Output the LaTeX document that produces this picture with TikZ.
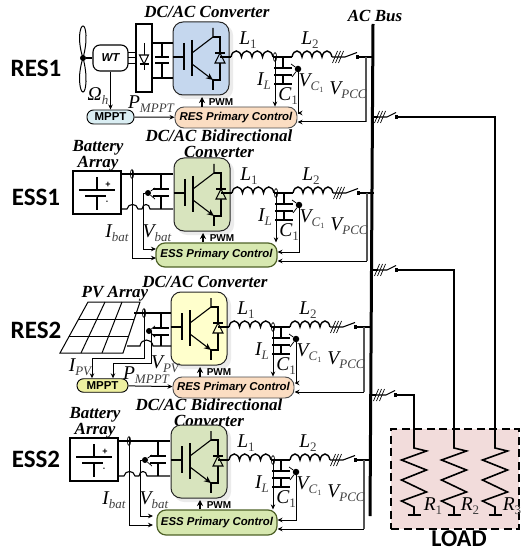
\documentclass[tikz,border=0pt]{standalone}
\usepackage{fontspec}
\setmainfont{Liberation Serif}
\setsansfont{Liberation Sans}
\newfontfamily\carl{Carlito}
\usetikzlibrary{arrows.meta}
\definecolor{cblue}{HTML}{C5D7EE}
\definecolor{cgreen}{HTML}{D8E4BE}
\definecolor{cyell}{HTML}{FFFFCC}
\definecolor{cpeach}{HTML}{FBDDC2}
\definecolor{ctlg}{HTML}{D7E8B0}
\definecolor{ctlb}{HTML}{4F6228}
\definecolor{cpink}{HTML}{F2DCDB}
\definecolor{mblue}{HTML}{DAEEF3}
\definecolor{myell}{HTML}{EEF0A0}
\definecolor{sgray}{HTML}{555555}
\newcommand{\symb}[2]{{\fontsize{19.5}{19}\selectfont\itshape #1\raisebox{-4pt}{\fontsize{13}{13}\selectfont\color{black!75}#2}}}
\newcommand{\titl}{\fontsize{17}{17}\selectfont\bfseries\itshape}
\newcommand{\rowl}{\carl\fontsize{25}{25}\selectfont\bfseries}
\tikzset{
  wire/.style={line width=1.1pt,black},
  thin wire/.style={line width=.75pt,black},
  gray wire/.style={line width=1.2pt,sgray},
  feed/.style={line width=.8pt,black,-{Stealth[length=5pt,width=4.5pt]}},
  plate/.style={line width=1.8pt,black},
  conv/.style={draw=black!85,line width=1pt,rounded corners=10pt},
  glow/.style={rounded corners=10pt,fill=black!8},
  ctrl/.style={rounded corners=9pt,inner sep=0pt,font=\sffamily\bfseries\itshape\fontsize{11.4}{12}\selectfont},
  resctrl/.style={ctrl,draw=black!70,line width=.9pt,fill=cpeach},
  essctrl/.style={ctrl,draw=ctlb,line width=1.2pt,fill=ctlg},
  mppt/.style={rounded corners=6.5pt,draw=black,line width=.9pt,inner sep=0pt,font=\sffamily\bfseries\fontsize{11.5}{12}\selectfont},
  pwm/.style={inner sep=0pt,font=\sffamily\bfseries\fontsize{10}{10}\selectfont},
  lab/.style={inner sep=0pt},
  ttl/.style={inner sep=0pt,font=\titl},
  rowlabel/.style={inner sep=0pt,font=\rowl},
  dotn/.style={circle,fill=black,inner sep=0pt,minimum size=6pt},
}
\newcommand{\coil}[4]{\draw[wire,line width=1.4pt] (#1,#2) foreach \i in {1,...,#3} { .. controls +(1.5,-8) and +(-1.5,-8) .. ++(#4,0) };}
% x y blade-length
\newcommand{\swt}[3]{%
  \foreach \k in {-3,0,3} \draw[line width=.7pt] ({#1+\k-2.5},{#2+6}) -- ({#1+\k+2.5},{#2-6});
  \draw[wire] ({#1-6},#2) -- ({#1+7},#2) -- ({#1+#3},{#2-4.5});
  \fill ({#1+#3-1.5},{#2-2}) rectangle ({#1+#3+2},{#2+2});
}
% name dx dy convfill ctrlstyle x0 x1 y1 label
\newcommand{\stage}[9]{%
\begin{scope}[shift={(#2,#3)}]
  \fill[glow] (176,25) rectangle (233,99);
  \node[conv,fill=#4,minimum width=56pt,minimum height=73pt,inner sep=0pt] (#1conv) at (201,58.5) {};
  % IGBT
  \draw[wire] (#1conv.west |- 0,57) -- (184,57);
  \draw[line width=2.8pt] (184,43) -- (184,70);
  \draw[line width=2.8pt] (192,40) -- (192,76);
  \draw[wire] (213,28) -- (213,37) -- (192,53);
  \draw[wire,-{Stealth[length=7pt,width=6pt]}] (192,64) -- (213,80);
  \draw[wire] (213,79) -- (213,90);
  \draw[wire] (213,37) -- (220,37) -- (220,80) -- (213,80);
  \draw[wire,fill=#4] (215,63) -- (225,63) -- (220,53) -- cycle;
  \draw[wire] (215,53) -- (225,53);
  % output
  \draw[wire] (220,57) -- (231,57);
  \coil{231}{57}{4}{10.5}
  \draw[wire,line width=1.6pt] (273,57) -- (292,57);
  \coil{292}{57}{4}{10}
  \swt{338}{57}{19}
  \coordinate (#1bus) at (373,57);
  \coordinate (#1tap) at (366,57);
  \draw[line width=1.8pt] (358,57) -- (#1bus);
  % capacitor
  \draw[wire] (283,57) -- (283,68);
  \draw[plate] (274,68) -- (292,68);
  \draw[plate] (274,75) -- (292,75);
  \draw[wire] (283,75) -- (283,84);
  \draw[plate] (274,84) -- (292,84);
  % sensing
  \node[dotn,minimum size=6.5pt] (#1dot) at (298,69) {};
  \draw[thin wire] (#1dot) -- (291,64) (#1dot) -- (292,77);
  \coordinate (#1cs) at (275,57);
  \draw[line width=.7pt] (275,57) ellipse [x radius=1.6pt,y radius=4.5pt];
  % control
  \node[#5,minimum width={(#7-#6)*1pt},minimum height={(#8-107)*1pt}] (#1ctrl) at ({(#6+#7)/2},{(107+#8)/2}) {#9};
  \draw[feed] (#1cs) -- (#1cs |- #1ctrl.north);
  \draw[feed] (#1dot) |- ({#7+.5},{#8-15});
  \draw[gray wire] (#1tap) -- (366,{#8-6});
  \draw[feed,line width=1pt] (366,{#8-6}) -- ({#7+.5},{#8-6});
  \draw[wire,-{Stealth[length=6pt,width=6pt]}] (#1ctrl.north -| 202,0) -- (202,97);
  \node[pwm] (#1pwm) at (221,102) {PWM};
  % labels
  \node[lab] (#1la) at (248,40) {\symb{L}{\upshape 1}};
  \node[lab] (#1lb) at (310,40) {\symb{L}{\upshape 2}};
  \node[lab] (#1il) at (264,81) {\symb{I}{L}};
  \node[lab] (#1cl) at (288,96) {\symb{C}{\upshape 1}};
  \node[lab] (#1vc) at (311,83) {\symb{V}{C\raisebox{-2pt}{\fontsize{8}{8}\selectfont\upshape 1}}};
  \node[lab] (#1vp) at (348,90) {\symb{V}{PCC}};
\end{scope}}
% name dx dy
\newcommand{\batt}[3]{%
\begin{scope}[shift={(#2,#3)}]
  \node[draw=black,line width=1.1pt,minimum width=48pt,minimum height=43pt,inner sep=0pt] (#1box) at (97,56.5) {};
  \draw[wire] (97,41) -- (97,54);
  \draw[wire,line width=1.4pt] (79,54) -- (115,54);
  \draw[wire,line width=1.4pt] (85,60) -- (106,60);
  \draw[wire] (97,60) -- (97,74);
  \node[inner sep=0pt,font=\sffamily\bfseries\fontsize{9}{9}\selectfont] (#1pl) at (108,49) {+};
  \node[inner sep=0pt,font=\sffamily\bfseries\fontsize{7}{7}\selectfont] (#1mi) at (107,66) {-};
  \draw[wire] (121,38) -- (173,38);
  \draw[wire] (121,73) -- (127,73) .. controls +(1,-6) and +(-1,-6) .. ++(11,0) -- (142,73) .. controls +(.5,-6) and +(-.5,-6) .. ++(8,0) -- (173,73);
  \draw[line width=.7pt] (132,38) ellipse [x radius=1.6pt,y radius=4.5pt];
  \draw[wire] (161,38) -- (161,53);
  \draw[wire,line width=1.5pt] (153,53) -- (169,53);
  \draw[wire,line width=1.5pt] (153,60) -- (169,60);
  \draw[wire] (161,60) -- (161,73);
  \node[dotn] (#1dot) at (148,57) {};
  \draw[thin wire] (#1dot) -- (155,52) (#1dot) -- (155,63);
  \coordinate (#1ci) at (132,34);
  \coordinate (#1ca) at (156,122);
  \coordinate (#1cb) at (156,113);
  \draw[feed] (#1ci) |- (#1ca);
  \draw[feed] (#1dot) -- (143,57) |- (#1cb);
  \node[lab] (#1ib) at (117,97) {\symb{I}{bat}};
  \node[lab] (#1vb) at (157,97) {\symb{V}{bat}};
  \node[ttl] (#1ta) at (98,11.5) {Battery};
  \node[ttl] (#1tb) at (98,28) {Array};
\end{scope}}
\begin{document}
\begin{tikzpicture}[x=1pt,y=-1pt]
\useasboundingbox (0,0) rectangle (520,553);
% load box
\node[draw=black,line width=1.1pt,dash pattern=on 8pt off 4.5pt,fill=cpink,minimum width=128pt,minimum height=100pt,inner sep=0pt] (load) at (455,479) {};
\node[rowlabel,font=\carl\fontsize{24}{24}\selectfont\bfseries] (loadt) at (459,539) {LOAD};
% row labels
\node[rowlabel] (r1) at (36,68) {RES1};
\node[rowlabel] (r2) at (36,197) {ESS1};
\node[rowlabel] (r3) at (36,330) {RES2};
\node[rowlabel] (r4) at (36,459) {ESS2};
% titles
\node[ttl] (t1) at (207,12) {DC/AC Converter};
\node[ttl] (t2a) at (219,136) {DC/AC Bidirectional};
\node[ttl] (t2b) at (219,152) {Converter};
\node[ttl] (t3) at (205,282) {DC/AC Converter};
\node[ttl] (t4a) at (209,405) {DC/AC Bidirectional};
\node[ttl] (t4b) at (209,421) {Converter};
\node[ttl] (bust) at (375,16) {AC Bus};
% stages
\stage{a}{0}{0}{cblue}{resctrl}{175}{297}{128}{RES Primary Control}
\stage{b}{1}{136}{cgreen}{essctrl}{155}{276}{131}{ESS Primary Control}
\stage{c}{-2}{270}{cyell}{resctrl}{175}{296}{128}{RES Primary Control}
\stage{d}{-2}{403}{cgreen}{essctrl}{159}{279}{132}{ESS Primary Control}
% bus
\draw[line width=3pt] (373,24) -- (370,516);
% bus switches and loads
\draw[wire] (373,117) -- (378,117);
\swt{380}{117}{16}
\draw[wire] (373,270) -- (378,270);
\swt{380}{270}{16}
\draw[wire] (371,395) -- (376,395);
\swt{379}{395}{16}
\coordinate (ra) at (414,447);
\coordinate (rb) at (454,447);
\coordinate (rc) at (495,447);
\draw[line width=1.5pt] (397,117) -| (rc);
\draw[line width=1.5pt] (397,270) -| (rb);
\draw[line width=1.5pt] (396,395) -| (ra);
\foreach \n/\xc/\lx/\s in {ra/414/433/1,rb/454/470/2,rc/495/512/3}{
  \draw[line width=1.6pt,line join=miter] (\n) -- ++(0,1) -- (\xc+12.5,451) -- (\xc-12.5,460) -- (\xc+12.5,470) -- (\xc-12.5,480) -- (\xc+12.5,492) -- (\xc-12.5,501) -- (\xc,507) -- (\xc,515);
  \draw[line width=1.8pt] (\xc-6.5,515) -- (\xc+6.5,515);
  \node[lab] (t\n) at (\lx,506) {\symb{R}{\upshape\s}};
}
% --- RES1 source
\draw[line width=1pt] (83,58) .. controls (77,40) and (80,26) .. (83,26) .. controls (86,26) and (88,40) .. (83,58);
\draw[line width=1pt] (83,58) .. controls (77,76) and (80,92) .. (83,92) .. controls (86,92) and (88,76) .. (83,58);
\node[circle,fill=black,inner sep=0pt,minimum size=6pt] (hub) at (83,58) {};
\node[draw=black,line width=1.1pt,rounded corners=7pt,minimum width=35pt,minimum height=26pt,inner sep=0pt,font=\sffamily\bfseries\itshape\fontsize{11.5}{12}\selectfont] (wt) at (110.5,58) {WT};
\draw[wire] (hub) -- (wt);
\node[draw=black,line width=1.1pt,minimum width=16pt,minimum height=68pt,inner sep=0pt] (rect) at (144,58) {};
\foreach \yy in {52,57,63} \draw[thin wire] (128,\yy) -- (136,\yy);
\draw[thin wire] (144,43) -- (144,70);
\draw[wire,fill=white] (139.5,55) -- (148.5,55) -- (144,64) -- cycle;
\draw[wire] (139.5,64) -- (148.5,64);
\draw[wire] (152,43) -- (173,43);
\draw[wire] (152,78) -- (173,78);
\draw[wire] (162,43) -- (162,57);
\draw[wire,line width=1.5pt] (155,57) -- (169,57);
\draw[wire,line width=1.5pt] (155,63) -- (169,63);
\draw[wire] (162,63) -- (162,78);
\node[mppt,fill=mblue,minimum width=47pt,minimum height=14pt] (ma) at (110.5,117) {MPPT};
\draw[feed] (wt) -- (wt |- ma.north);
\draw[feed,line width=1pt] (ma) -- (actrl);
\node[lab] (om) at (98,96) {\symb{Ω}{h}};
\node[lab] (pa) at (151,104) {\symb{P}{MPPT}};
% --- batteries
\batt{e}{0}{136}
\batt{f}{-3}{403}
% --- PV
\draw[line width=1pt] (88,302) -- (140,302) -- (123,353) -- (60,353) -- cycle;
\foreach \ya/\xa/\xb in {319/78.7/134.4,336/69.3/128.7}{\draw[line width=1pt] (\xa,\ya) -- (\xb,\ya);}
\draw[line width=1pt] (105,302) -- (81,353);
\draw[line width=1pt] (122,302) -- (102,353);
\draw[wire] (134,313) -- (171,313);
\draw[wire] (127,346) -- (140,346) .. controls (141,338) and (152,338) .. (153,346) -- (171,346);
\draw[line width=.7pt] (144,313) ellipse [x radius=1.6pt,y radius=4.5pt];
\draw[wire] (161,313) -- (161,328);
\draw[wire,line width=1.5pt] (153,328) -- (169,328);
\draw[wire,line width=1.5pt] (153,335) -- (169,335);
\draw[wire] (161,335) -- (161,346);
\node[dotn] (gdot) at (149,331) {};
\draw[thin wire] (gdot) -- (155,326) (gdot) -- (155,337);
\node[mppt,fill=myell,minimum width=51pt,minimum height=13.5pt] (mb) at (102.5,385.5) {MPPT};
\coordinate (gs) at (144,309);
\coordinate (gi) at (92,358);
\coordinate (gv) at (113,363);
\draw[thin wire] (gs) |- (gi);
\draw[feed] (gi) -- (gi |- mb.north);
\draw[thin wire] (gdot) -| (151,363) -- (gv);
\draw[feed] (gv) -- (gv |- mb.north);
\draw[feed,line width=1pt] (mb) -- (cctrl);
\node[ttl] (pvt) at (115,294) {PV Array};
\node[lab] (ipv) at (80,367) {\symb{I}{PV}};
\node[lab] (vpv) at (165,364) {\symb{V}{PV}};
\node[lab] (pb) at (146,375) {\symb{P}{MPPT}};
\end{tikzpicture}
\end{document}
